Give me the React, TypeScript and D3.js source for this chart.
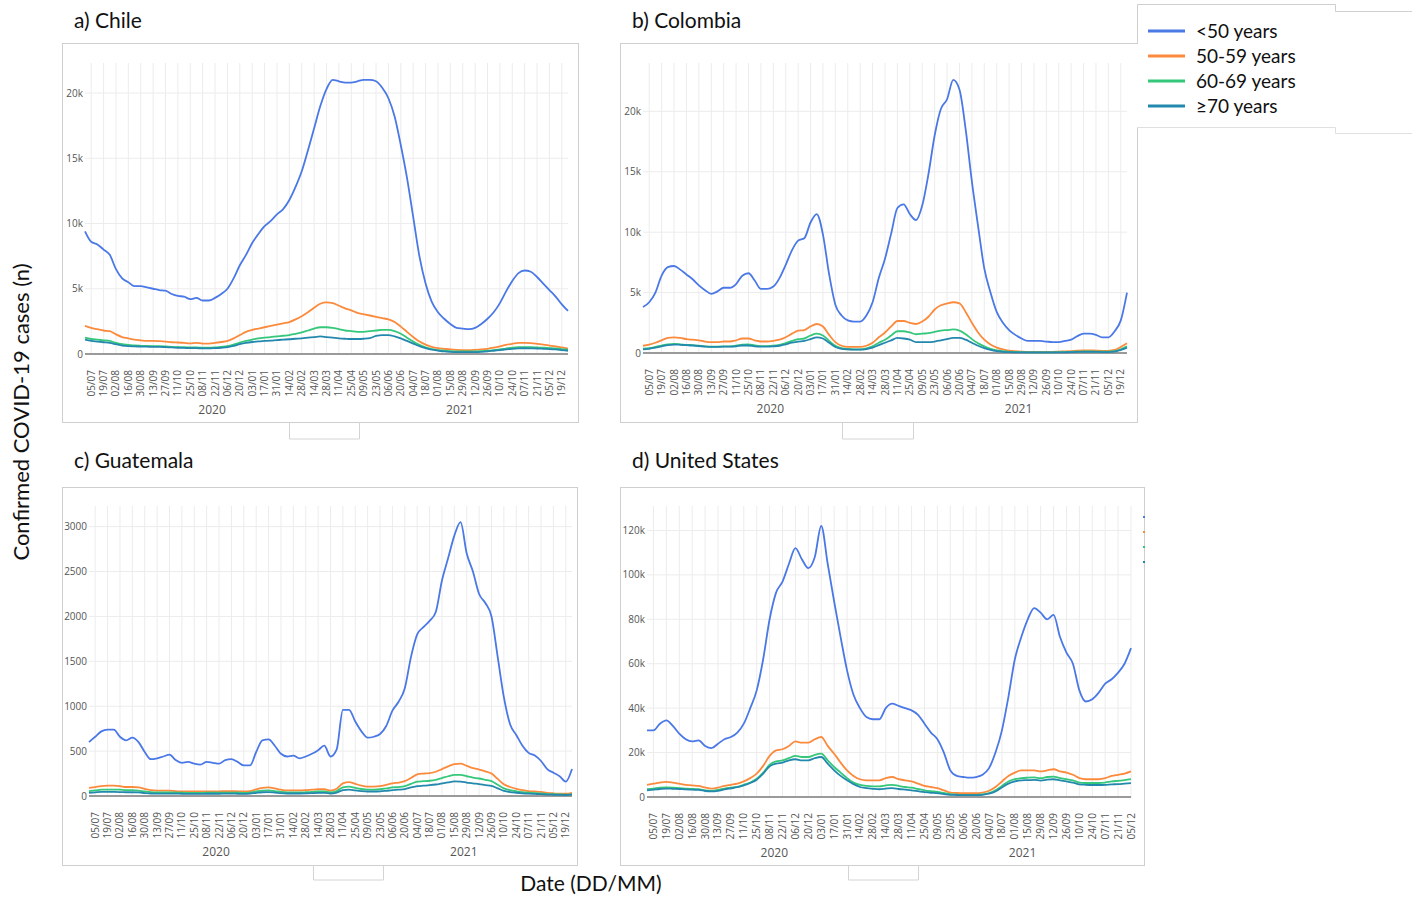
import * as d3 from 'd3';

// weekly samples, first one on 28/06/2020
const startDate = new Date(Date.UTC(2020, 5, 28));
const firstTick = new Date(Date.UTC(2020, 6, 5));
const endMain = new Date(Date.UTC(2021, 11, 26));
const endUS = new Date(Date.UTC(2021, 11, 5));

const ageGroups = ['<50 years', '50-59 years', '60-69 years', '≥70 years'];
const colors = ['#4a78e6', '#fb8a3c', '#35c77a', '#2388ad'];
const yearLabels = ['2020', '2021'];

const chileU50 = [9400, 8600, 8400, 8000, 7600, 6500, 5800, 5500, 5200, 5200, 5100, 5000, 4900, 4850, 4600, 4450, 4400, 4200, 4300, 4100, 4100, 4300, 4600, 5000, 5800, 6800, 7600, 8500, 9200, 9800, 10200, 10700, 11100, 11800, 12800, 14000, 15600, 17300, 19000, 20300, 21000, 20900, 20800, 20800, 20900, 21000, 21000, 20900, 20400, 19600, 18200, 16000, 13500, 10500, 7500, 5400, 4000, 3200, 2700, 2300, 2000, 1950, 1900, 2000, 2300, 2700, 3200, 3900, 4800, 5600, 6200, 6400, 6300, 5900, 5400, 4900, 4400, 3800, 3300];
const chile5059 = [2150, 2000, 1900, 1800, 1750, 1500, 1300, 1200, 1100, 1050, 1000, 1000, 980, 950, 900, 880, 850, 820, 850, 800, 800, 850, 920, 1000, 1200, 1450, 1700, 1850, 1950, 2050, 2150, 2250, 2350, 2450, 2650, 2900, 3200, 3550, 3850, 3950, 3900, 3700, 3500, 3350, 3150, 3050, 2950, 2850, 2750, 2650, 2450, 2100, 1700, 1300, 950, 720, 550, 450, 400, 350, 320, 300, 300, 320, 350, 400, 480, 580, 700, 780, 850, 850, 830, 780, 720, 650, 580, 500, 420];
const chile6069 = [1250, 1150, 1100, 1050, 1000, 850, 750, 700, 650, 630, 620, 600, 600, 580, 550, 530, 520, 500, 500, 480, 480, 500, 550, 600, 720, 880, 1000, 1100, 1200, 1250, 1300, 1350, 1400, 1450, 1550, 1650, 1800, 1950, 2050, 2050, 2000, 1900, 1800, 1750, 1700, 1700, 1750, 1800, 1850, 1850, 1750, 1550, 1250, 950, 700, 500, 380, 300, 260, 220, 200, 200, 200, 200, 220, 250, 300, 350, 420, 480, 520, 530, 520, 500, 480, 450, 420, 380, 330];
const chile70 = [1100, 1000, 950, 900, 850, 750, 650, 600, 580, 570, 560, 550, 550, 530, 500, 480, 470, 450, 450, 430, 430, 450, 480, 520, 620, 750, 850, 920, 970, 1000, 1030, 1070, 1100, 1130, 1170, 1200, 1250, 1300, 1350, 1300, 1250, 1200, 1170, 1150, 1150, 1170, 1220, 1380, 1450, 1450, 1350, 1200, 1000, 800, 600, 450, 330, 260, 200, 170, 150, 140, 140, 150, 170, 200, 250, 300, 350, 400, 430, 440, 430, 420, 400, 380, 350, 300, 250];

const colombiaU50 = [3800, 4200, 5000, 6400, 7100, 7200, 6900, 6500, 6100, 5600, 5200, 4900, 5100, 5400, 5400, 5700, 6400, 6600, 6000, 5300, 5300, 5500, 6200, 7300, 8500, 9300, 9500, 10800, 11500, 9800, 6500, 4000, 3100, 2700, 2600, 2600, 3100, 4200, 6200, 7800, 9900, 12000, 12300, 11500, 11000, 12200, 14800, 18000, 20200, 21000, 22600, 21800, 18500, 14200, 10500, 7000, 5000, 3400, 2500, 1900, 1500, 1200, 1000, 1000, 1000, 950, 900, 900, 1000, 1100, 1400, 1600, 1600, 1500, 1300, 1300, 1800, 2700, 5000];
const colombia5059 = [600, 700, 850, 1050, 1250, 1300, 1250, 1150, 1100, 1050, 950, 900, 900, 950, 950, 1050, 1200, 1200, 1050, 950, 950, 1000, 1100, 1300, 1600, 1850, 1900, 2200, 2400, 2200, 1500, 900, 600, 500, 500, 500, 600, 850, 1300, 1700, 2200, 2650, 2650, 2500, 2400, 2600, 3000, 3600, 3950, 4100, 4200, 4100, 3400, 2500, 1700, 1100, 700, 450, 300, 200, 150, 120, 100, 100, 100, 100, 100, 120, 130, 150, 200, 220, 220, 200, 180, 180, 250, 500, 800];
const colombia6069 = [350, 400, 500, 620, 720, 750, 720, 680, 650, 600, 550, 530, 530, 550, 550, 600, 700, 720, 620, 570, 570, 600, 680, 820, 1000, 1150, 1200, 1450, 1600, 1450, 1000, 600, 400, 330, 300, 300, 380, 550, 850, 1100, 1450, 1800, 1800, 1700, 1550, 1600, 1650, 1750, 1850, 1900, 1950, 1850, 1550, 1150, 800, 550, 350, 220, 150, 100, 80, 70, 60, 60, 60, 60, 60, 70, 80, 90, 120, 130, 130, 120, 110, 110, 150, 300, 550];
const colombia70 = [300, 350, 450, 550, 650, 700, 680, 650, 620, 580, 530, 500, 500, 520, 520, 550, 620, 620, 550, 520, 520, 550, 600, 720, 850, 950, 1000, 1150, 1300, 1200, 850, 500, 350, 300, 280, 280, 330, 450, 650, 850, 1050, 1250, 1200, 1100, 900, 900, 900, 950, 1050, 1150, 1250, 1250, 1100, 850, 600, 400, 250, 150, 100, 70, 50, 50, 50, 50, 50, 50, 50, 50, 60, 70, 90, 100, 100, 90, 80, 80, 120, 250, 450];

const guatemalaU50 = [600, 660, 720, 740, 740, 660, 620, 650, 600, 490, 410, 420, 440, 460, 400, 370, 380, 360, 350, 380, 370, 360, 400, 410, 380, 340, 340, 490, 620, 630, 560, 470, 440, 450, 420, 440, 470, 510, 560, 440, 520, 960, 960, 830, 720, 650, 660, 690, 780, 950, 1050, 1200, 1550, 1800, 1880, 1950, 2050, 2400, 2650, 2900, 3050, 2700, 2500, 2250, 2150, 2000, 1550, 1100, 800, 680, 560, 480, 450, 390, 300, 260, 220, 160, 300];
const guatemala5059 = [90, 100, 110, 115, 115, 110, 100, 100, 95, 80, 65, 60, 60, 60, 55, 52, 50, 50, 50, 52, 52, 52, 55, 55, 52, 50, 55, 75, 90, 95, 85, 70, 62, 62, 62, 65, 70, 75, 75, 60, 80, 140, 155, 135, 115, 105, 105, 110, 125, 140, 150, 165, 200, 240, 250, 255, 270, 300, 330, 355, 360, 335, 310, 295, 275, 250, 190, 130, 100, 80, 65, 55, 50, 45, 35, 30, 27, 25, 35];
const guatemala6069 = [55, 62, 70, 72, 72, 70, 65, 65, 60, 50, 42, 40, 40, 40, 38, 36, 35, 35, 35, 36, 36, 36, 38, 38, 36, 35, 38, 50, 60, 62, 55, 45, 40, 40, 40, 42, 45, 50, 50, 40, 55, 95, 105, 90, 78, 72, 72, 75, 85, 95, 100, 110, 135, 160, 165, 170, 180, 200, 220, 235, 235, 220, 205, 195, 180, 165, 125, 85, 65, 52, 42, 36, 32, 28, 22, 20, 18, 16, 22];
const guatemala70 = [35, 40, 45, 45, 45, 44, 42, 42, 40, 33, 28, 27, 27, 27, 26, 25, 24, 24, 24, 25, 25, 25, 26, 26, 25, 24, 26, 35, 42, 43, 38, 31, 28, 28, 28, 29, 31, 34, 34, 28, 38, 65, 72, 62, 54, 50, 50, 52, 58, 65, 70, 77, 95, 110, 115, 120, 128, 140, 152, 162, 160, 150, 140, 133, 122, 112, 85, 58, 44, 36, 30, 26, 23, 20, 16, 14, 12, 11, 15];

const usU50 = [30000, 30000, 33000, 34500, 32000, 28500, 26000, 25000, 25500, 23000, 22000, 24000, 26000, 27000, 29000, 33000, 40000, 48000, 62000, 80000, 92000, 97000, 105000, 112000, 107000, 103000, 108000, 122000, 105000, 88000, 72000, 57000, 46000, 40000, 36000, 35000, 35000, 40000, 42000, 41000, 40000, 39000, 37000, 33000, 29000, 26000, 20000, 12000, 9500, 9000, 8700, 9000, 10000, 13000, 20000, 30000, 45000, 62000, 72000, 80000, 85000, 83000, 80000, 82000, 72000, 65000, 60000, 48000, 43000, 44000, 47000, 51000, 53000, 56000, 60000, 67000];
const us5059 = [5500, 6000, 6500, 6800, 6500, 6000, 5500, 5200, 5000, 4300, 3800, 4200, 5000, 5500, 6000, 7000, 8500, 10500, 14000, 18500, 21000, 21500, 23000, 25000, 24500, 24500, 26000, 27000, 23000, 19500, 15500, 12000, 9500, 8000, 7500, 7500, 7500, 8500, 9000, 8000, 7500, 7000, 6000, 5000, 4500, 4000, 3000, 2000, 1800, 1700, 1700, 1700, 2000, 2800, 4500, 7000, 9500, 11000, 12000, 12000, 12000, 11500, 12000, 12500, 11500, 11000, 10000, 8500, 8000, 8000, 8000, 8500, 9500, 10000, 10500, 11500];
const us6069 = [3500, 3800, 4200, 4300, 4200, 4000, 3800, 3600, 3500, 3000, 2800, 3200, 3800, 4200, 4600, 5500, 6500, 8200, 11000, 14500, 16000, 16500, 17500, 18500, 18000, 18000, 19000, 19500, 16500, 13500, 11000, 8500, 6500, 5500, 5000, 4800, 4800, 5200, 5500, 5000, 4500, 4200, 3600, 3000, 2600, 2300, 1800, 1300, 1100, 1000, 1000, 1000, 1200, 1800, 3000, 5000, 7000, 8000, 8500, 8700, 8800, 8500, 9000, 9200, 8500, 8000, 7500, 6500, 6300, 6300, 6300, 6500, 7000, 7300, 7600, 8000];
const us70 = [3000, 3300, 3600, 3800, 3700, 3600, 3400, 3300, 3200, 2700, 2500, 2800, 3400, 3900, 4400, 5200, 6300, 7800, 10500, 13800, 15000, 15500, 16500, 17000, 16500, 16500, 17500, 18000, 15000, 12000, 9500, 7500, 5800, 4500, 4000, 3700, 3500, 3800, 4000, 3600, 3300, 3000, 2600, 2200, 1900, 1700, 1300, 1000, 900, 800, 800, 800, 1000, 1500, 2500, 4300, 6000, 7000, 7500, 7600, 7700, 7400, 7800, 8000, 7500, 7000, 6500, 5700, 5500, 5400, 5400, 5500, 5700, 5800, 6000, 6200];

const ticksK = [0, 5000, 10000, 15000, 20000];
const ticksGt = [0, 500, 1000, 1500, 2000, 2500, 3000];
const ticksUs = [0, 20000, 40000, 60000, 80000, 100000, 120000];

const panels = [
    { title: 'a) Chile', tx: 74, ty: 28, frame: [62, 43, 516, 379], tab: [289, 359, 17], plot: [85, 568, 63, 354], yMax: 22300, yTicks: ticksK, kFormat: true, end: endMain, series: [chileU50, chile5059, chile6069, chile70] },
    { title: 'b) Colombia', tx: 632, ty: 28, frame: [620, 43, 517, 379], tab: [842, 913, 17], plot: [643, 1127, 63, 353], yMax: 24000, yTicks: ticksK, kFormat: true, end: endMain, series: [colombiaU50, colombia5059, colombia6069, colombia70] },
    { title: 'c) Guatemala', tx: 74, ty: 468, frame: [62, 487, 515, 378], tab: [313, 383, 15], plot: [89, 572, 506, 796], yMax: 3230, yTicks: ticksGt, kFormat: false, end: endMain, series: [guatemalaU50, guatemala5059, guatemala6069, guatemala70] },
    { title: 'd) United States', tx: 632, ty: 468, frame: [620, 487, 524, 378], tab: [848, 918, 15], plot: [647, 1131, 506, 797], yMax: 131000, yTicks: ticksUs, kFormat: true, end: endUS, series: [usU50, us5059, us6069, us70] }
];

const labelFont = 'Lato, Carlito, sans-serif';
const tickFont = '"Open Sans", sans-serif';
const dayMonth = d3.utcFormat('%d/%m');

function Panel({ p }: { p: (typeof panels)[number] }) {
    const [left, right, top, bottom] = p.plot;
    const x = d3.scaleUtc().domain([startDate, p.end]).range([left, right]);
    const y = d3.scaleLinear().domain([0, p.yMax]).range([bottom, top]);
    const xTicks = d3
        .range(0, 45)
        .map((k) => d3.utcDay.offset(firstTick, 14 * k))
        .filter((d) => d <= p.end);
    const line = d3
        .line<number>()
        .x((_, i) => x(d3.utcDay.offset(startDate, 7 * i)))
        .y((v) => y(v))
        .curve(d3.curveMonotoneX);
    const [fx, fy, fw, fh] = p.frame;
    const [t1, t2, th] = p.tab;
    const fb = fy + fh;
    return (
        <g>
            <rect x={fx + 0.5} y={fy + 0.5} width={fw} height={fh} fill="#fff" stroke="#cfcfcf" />
            <path d={`M${t1 + 0.5},${fb}V${fb + th}H${t2 + 0.5}V${fb}`} fill="none" stroke="#d4d4d4" />
            <text x={p.tx} y={p.ty} fontFamily={labelFont} fontSize={21} fill="#111">
                {p.title}
            </text>
            {xTicks.map((d, i) => (
                <line key={'gx' + i} x1={x(d)} x2={x(d)} y1={top} y2={bottom} stroke="#ececec" />
            ))}
            {p.yTicks
                .filter((v) => v > 0)
                .map((v) => (
                    <line key={'gy' + v} x1={left} x2={right} y1={y(v)} y2={y(v)} stroke="#ececec" />
                ))}
            <line x1={left} x2={right} y1={bottom} y2={bottom} stroke="#9a9a9a" strokeWidth={2} />
            {p.yTicks.map((v) => (
                <text key={'ty' + v} x={left - 2} y={y(v)} dy="0.35em" textAnchor="end" fontFamily={tickFont} fontSize={10} fill="#555">
                    {p.kFormat && v > 0 ? `${v / 1000}k` : String(v)}
                </text>
            ))}
            {xTicks.map((d, i) => (
                <text
                    key={'tx' + i}
                    transform={`translate(${x(d)},${bottom + 16}) rotate(-90)`}
                    dy="0.35em"
                    textAnchor="end"
                    fontFamily={tickFont}
                    fontSize={10}
                    fill="#555"
                >
                    {dayMonth(d)}
                </text>
            ))}
            {yearLabels.map((yr, i) => (
                <text key={yr} x={left + (i === 0 ? 0.263 : 0.776) * (right - left)} y={bottom + 60} textAnchor="middle" fontFamily={tickFont} fontSize={12} fill="#555">
                    {yr}
                </text>
            ))}
            {p.series.map((s, i) => (
                <path key={'s' + i} d={line(s) ?? ''} fill="none" stroke={colors[i]} strokeWidth={1.8} strokeLinejoin="round" />
            ))}
        </g>
    );
}

export default function App() {
    const usFrame = panels[3].frame;
    return (
        <svg width={1418} height={899} style={{ position: 'absolute', left: 0, top: 0, background: '#fff' }}>
            {panels.map((p) => (
                <Panel key={p.title} p={p} />
            ))}
            {/* stray legend marks at the right edge of panel d */}
            {colors.map((c, i) => (
                <line key={'m' + i} x1={usFrame[0] + usFrame[2] - 1} x2={usFrame[0] + usFrame[2] + 1} y1={517 + 15 * i} y2={517 + 15 * i} stroke={c} strokeWidth={2} />
            ))}
            {/* legend */}
            <rect x={1137} y={4} width={198} height={123} fill="#fff" />
            <path d="M1137.5,44V4.5H1335.5V11.5H1412" fill="none" stroke="#cfcfcf" />
            <path d="M1137,127.5H1335.5V133.5H1412" fill="none" stroke="#e0e0e0" />
            {ageGroups.map((g, i) => (
                <g key={g}>
                    <line x1={1148} x2={1185} y1={31 + 25 * i} y2={31 + 25 * i} stroke={colors[i]} strokeWidth={3} />
                    <text x={1196} y={31 + 25 * i} dy="0.35em" fontFamily={labelFont} fontSize={19} fill="#111">
                        {g}
                    </text>
                </g>
            ))}
            <text transform="translate(21,412) rotate(-90)" dy="0.35em" textAnchor="middle" fontFamily={labelFont} fontSize={22} fill="#111">
                Confirmed COVID-19 cases (n)
            </text>
            <text x={591} y={891} textAnchor="middle" fontFamily={labelFont} fontSize={21} fill="#111">
                Date (DD/MM)
            </text>
        </svg>
    );
}
